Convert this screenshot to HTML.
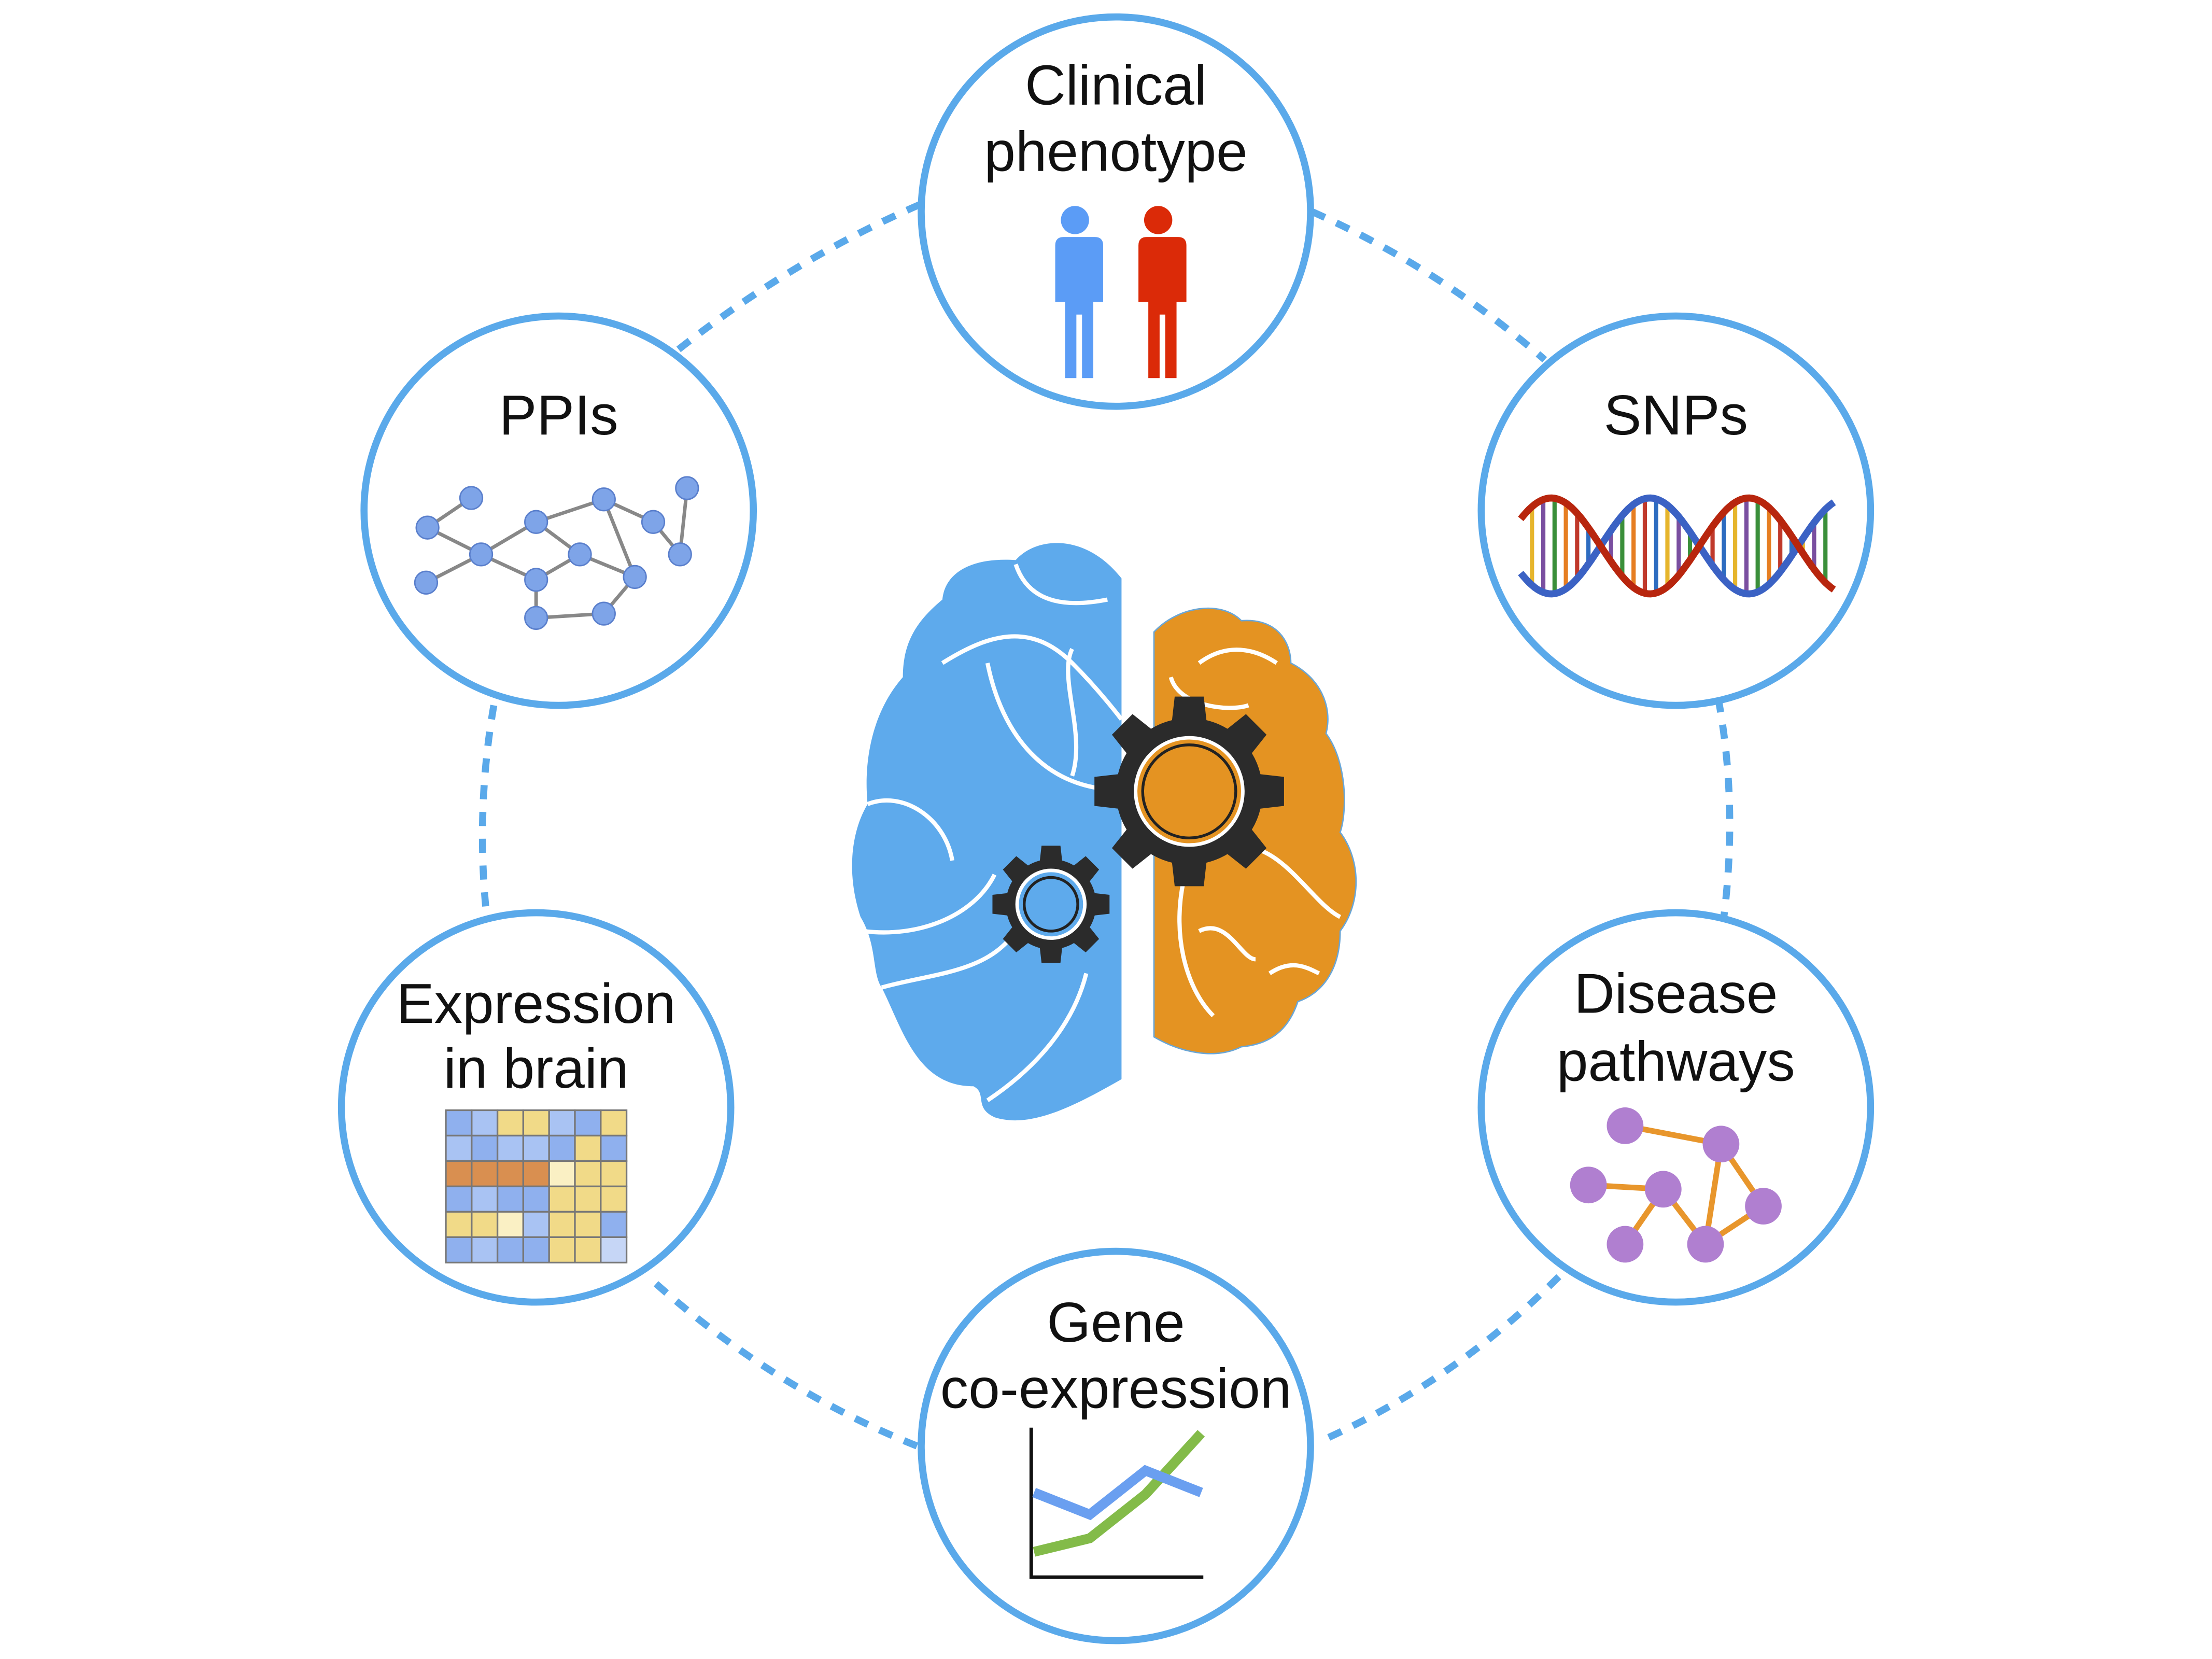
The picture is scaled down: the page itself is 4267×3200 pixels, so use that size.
<!DOCTYPE html>
<html><head><meta charset="utf-8"><style>
html,body{margin:0;padding:0;background:#fff;overflow:hidden;}
svg{display:block;}
text{font-family:"Liberation Sans",sans-serif;font-size:40px;fill:#111;text-anchor:middle;}
</style></head><body>
<svg id="s" width="4267" height="3200" viewBox="0 0 1568 1176" xmlns="http://www.w3.org/2000/svg">
<g stroke="#5aa9ea" stroke-width="5" stroke-dasharray="10 9" fill="none">
<path d="M652,145 Q560,185 478,250"/>
<path d="M930,150 Q1020,190 1095,255"/>
<path d="M1218,495 Q1232,570 1222,650"/>
<path d="M1105,905 Q1030,980 935,1022"/>
<path d="M650,1025 Q550,985 465,910"/>
<path d="M350,500 Q337,575 345,650"/>
</g>
<g fill="#fff" stroke="#5aa9ea" stroke-width="5">
<circle cx="791" cy="150" r="138"/>
<circle cx="1188" cy="362" r="138"/>
<circle cx="1188" cy="785" r="138"/>
<circle cx="791" cy="1025" r="138"/>
<circle cx="380" cy="785" r="138"/>
<circle cx="396" cy="362" r="138"/>
</g>
<text x="791" y="74">Clinical</text>
<text x="791" y="121">phenotype</text>
<text x="396" y="308">PPIs</text>
<text x="1188" y="308">SNPs</text>
<text x="1188" y="718">Disease</text>
<text x="1188" y="766">pathways</text>
<text x="380" y="725">Expression</text>
<text x="380" y="771">in brain</text>
<text x="791" y="951">Gene</text>
<text x="791" y="998">co-expression</text>
<g fill="#5b9cf6">
<circle cx="762" cy="156" r="10"/>
<path d="M745,168 h34 q6,0 6,6 v40 h-7 v54 h-8 v-45 h-4 v45 h-8 v-54 h-7 v-40 q0,-6 6,-6z" transform="translate(-3,0)"/>
</g>
<g fill="#db2a08">
<circle cx="821" cy="156" r="10"/>
<path d="M804,168 h34 q6,0 6,6 v40 h-7 v54 h-8 v-45 h-4 v45 h-8 v-54 h-7 v-40 q0,-6 6,-6z" transform="translate(-3,0)"/>
</g>
<g id="dna"></g>
<g id="ppi"></g>
<g id="heat"></g>
<g id="path"></g>
<g id="chart"></g>
<path fill="#5eaaec" d="M795,410 L795,765 C760,785 730,800 705,792 C690,785 700,775 690,770 C650,770 640,730 625,700 C618,690 622,670 610,650 C600,620 603,590 615,570 C612,540 618,505 640,480 C640,455 650,440 668,425 C670,405 690,395 720,397 C735,380 770,378 795,410 Z"/>
<path fill="#e49322" stroke="#6aa6d6" stroke-width="1" d="M818,448 C835,430 865,425 880,440 C905,438 915,455 915,470 C935,480 945,500 940,520 C955,540 955,575 950,590 C965,610 965,640 950,660 C950,690 935,705 920,710 C915,725 905,740 880,742 C860,752 835,745 818,735 Z"/>
<g stroke="#fff" stroke-width="3" fill="none">
<path d="M668,470 C700,450 730,440 760,470 C780,490 795,510 795,510"/>
<path d="M720,400 C730,430 760,430 785,425"/>
<path d="M615,570 C640,560 670,580 675,610"/>
<path d="M612,660 C650,665 690,650 705,620"/>
<path d="M625,700 C660,690 700,690 720,660"/>
<path d="M700,470 C710,520 740,560 795,560"/>
<path d="M760,460 C750,480 770,520 760,550"/>
<path d="M700,780 C730,760 760,730 770,690"/>
<path d="M850,470 C870,455 890,460 905,470"/>
<path d="M830,480 C835,500 870,505 885,500"/>
<path d="M880,600 C910,600 930,640 950,650"/>
<path d="M850,660 C870,650 880,680 890,680"/>
<path d="M840,620 C830,660 840,700 860,720"/>
<path d="M900,690 C915,680 925,685 935,690"/>
</g>
<g id="gears"></g>
</svg>
<script>
const ppiNodes=[[303,374],[334,353],[341,393],[380,370],[380,411],[302,413],[411,393],[428,354],[463,370],[487,346],[482,393],[450,409],[428,435],[380,438]];
const ppiEdges=[[0,1],[0,2],[2,5],[2,3],[2,4],[3,7],[3,6],[6,4],[6,11],[7,8],[7,11],[8,10],[9,10],[4,13],[13,12],[12,11]];
const heatVals=[
 ['b','l','y','y','l','b','y'],
 ['l','b','l','l','b','y','b'],
 ['o','o','o','o','p','y','y'],
 ['b','l','b','b','y','y','y'],
 ['y','y','p','l','y','y','b'],
 ['b','l','b','b','y','y','c']];
const pwNodes=[[1152,798],[1220,811],[1126,840],[1179,843],[1250,855],[1152,882],[1209,882]];
const pwEdges=[[0,1],[1,6],[1,4],[2,3],[3,5],[3,6],[6,4]];
const chartX=[0,1,2,3];
const blueSeries=[1.75,1.1,2.4,1.75];
const greenSeries=[0,0.4,1.7,3.5];

const NS='http://www.w3.org/2000/svg';
function el(tag,attrs,parent){const e=document.createElementNS(NS,tag);for(const k in attrs)e.setAttribute(k,attrs[k]);parent.appendChild(e);return e;}
const dna=document.getElementById('dna');
(function(){
 const x0=1078,x1=1300,cy=387,A=34,P=140;
 let rp='',bp='';
 for(let x=x0;x<=x1;x+=2){const t=(x-x0)/P*2*Math.PI;const yr=cy-A*Math.sin(t+0.6);const yb=cy+A*Math.sin(t+0.6);rp+=(x===x0?'M':'L')+x+','+yr.toFixed(1);bp+=(x===x0?'M':'L')+x+','+yb.toFixed(1);}
 const cols=['#e6b52c','#7a4fa0','#3a8f3a','#e67e22','#c0392b','#2d6cc0'];
 let i=0;
 for(let x=x0+8;x<x1;x+=8){const t=(x-x0)/P*2*Math.PI;const y1=cy-A*Math.sin(t+0.6),y2=cy+A*Math.sin(t+0.6);
  const r=el('line',{x1:x,x2:x,y1:y1,y2:y2,stroke:cols[i++%cols.length],'stroke-width':3},dna);
  
  }
 const a=el('path',{d:bp,stroke:'#3b62c4','stroke-width':5,fill:'none'},dna);
 
 
 const b=el('path',{d:rp,stroke:'#b8260e','stroke-width':5,fill:'none'},dna);
 
 
})();
const ppi=document.getElementById('ppi');
ppiEdges.forEach(([a,b])=>{const l=el('line',{x1:ppiNodes[a][0],y1:ppiNodes[a][1],x2:ppiNodes[b][0],y2:ppiNodes[b][1],stroke:'#888','stroke-width':2.5},ppi);
 
 });
ppiNodes.forEach(([x,y])=>{const c=el('circle',{cx:x,cy:y,r:8,fill:'#7ea4e8',stroke:'#5a7fcc','stroke-width':1},ppi);
 
 });
const heatCols={b:'#8fb0ee',l:'#a9c3f3',y:'#f1da88',o:'#d98f50',p:'#faf0c4',c:'#c6d6f6'};
const heat=document.getElementById('heat');
heatVals.forEach((row,r)=>row.forEach((v,c)=>{const rc=el('rect',{x:316+c*18.3,y:787+r*18,width:18.3,height:18,fill:heatCols[v],stroke:'#777','stroke-width':1.2},heat);
 
 }));
const pw=document.getElementById('path');
pwEdges.forEach(([a,b])=>{const l=el('line',{x1:pwNodes[a][0],y1:pwNodes[a][1],x2:pwNodes[b][0],y2:pwNodes[b][1],stroke:'#e8962c','stroke-width':4},pw);
 
 });
pwNodes.forEach(([x,y])=>{const c=el('circle',{cx:x,cy:y,r:13,fill:'#b07fd0'},pw);
 
 });
const chart=document.getElementById('chart');
const cx0=731,cx1=853,cyB=1118,cyT=1012;
const xs=i=>733+i*39.5, ys=v=>cyB-18-v*24;
const ax=el('path',{d:`M${cx0},${cyT} V${cyB} H${cx1}`,stroke:'#111','stroke-width':2.5,fill:'none'},chart);


const gl=el('polyline',{points:chartX.map(i=>xs(i)+','+ys(greenSeries[i])).join(' '),stroke:'#83bb49','stroke-width':7,fill:'none'},chart);


const bl=el('polyline',{points:chartX.map(i=>xs(i)+','+ys(blueSeries[i])).join(' '),stroke:'#6a9ff0','stroke-width':7,fill:'none'},chart);


const gears=document.getElementById('gears');
function gear(cx,cy,R,r,teeth,tw,inner,ringFill){
 let d='';
 for(let i=0;i<teeth;i++){const a=i/teeth*2*Math.PI;const h=tw/2;
  const pts=[[a-h*1.25,r],[a-h*0.8,R],[a+h*0.8,R],[a+h*1.25,r]];
  pts.forEach((p,j)=>{d+=(i===0&&j===0?'M':'L')+(cx+p[1]*Math.cos(p[0])).toFixed(1)+','+(cy+p[1]*Math.sin(p[0])).toFixed(1);});
  const nxt=(i+1)/teeth*2*Math.PI-h*1.25;
  d+=`A${r},${r} 0 0 1 ${(cx+r*Math.cos(nxt)).toFixed(1)},${(cy+r*Math.sin(nxt)).toFixed(1)}`;}
 d+='Z';
 const g=el('path',{d:d,fill:'#2b2b2b'},gears);
 
 
 const c=el('circle',{cx:cx,cy:cy,r:inner,fill:ringFill,stroke:'#fff','stroke-width':2.5},gears);
 
 
 const c2=el('circle',{cx:cx,cy:cy,r:inner-5,fill:'none',stroke:'#222','stroke-width':2},gears);
 
 
}
gear(843,561,68,52,8,0.38,38,'#e49322');
gear(745,641,42,32,8,0.4,24,'#5eaaec');
</script>
</body></html>
